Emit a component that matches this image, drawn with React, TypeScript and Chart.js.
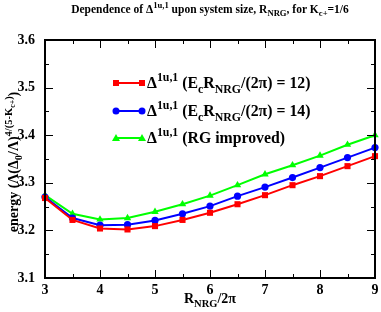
import React, { useEffect, useRef } from 'react';
import { Chart, registerables } from 'chart.js';
Chart.register(...registerables);

const FONT = '"Liberation Serif", "Times New Roman", serif';

const xValues = [3, 3.5, 4, 4.5, 5, 5.5, 6, 6.5, 7, 7.5, 8, 8.5, 9];
const ec12 = [3.268, 3.222, 3.204, 3.202, 3.209, 3.222, 3.237, 3.255, 3.274, 3.295, 3.314, 3.335, 3.356];
const ec14 = [3.270, 3.226, 3.211, 3.212, 3.221, 3.235, 3.251, 3.272, 3.291, 3.311, 3.332, 3.353, 3.374];
const rgImproved = [3.274, 3.235, 3.223, 3.226, 3.239, 3.255, 3.273, 3.295, 3.318, 3.337, 3.357, 3.380, 3.400];

const xTicks = [3, 4, 5, 6, 7, 8, 9];
const yTicks = [3.1, 3.2, 3.3, 3.4, 3.5, 3.6];

type Seg = { t: string; k?: 'sup' | 'sub' | 'supsub' };
const KIND: Record<string, { s: number; dy: number }> = {
  n: { s: 1, dy: 0 },
  sup: { s: 0.75, dy: -0.45 },
  sub: { s: 0.75, dy: 0.3 },
  supsub: { s: 0.56, dy: -0.22 },
};

const titleSegs: Seg[] = [
  { t: 'Dependence of \u0394' }, { t: '1u,1', k: 'sup' }, { t: ' upon system size, R' },
  { t: 'NRG', k: 'sub' }, { t: ', for K' }, { t: 'c+', k: 'sub' }, { t: '=1/6' },
];
const yLabelSegs: Seg[] = [
  { t: 'energy (\u039b(\u0394' }, { t: '0', k: 'sub' }, { t: '/\u039b)' },
  { t: '4/(5-K', k: 'sup' }, { t: 'c+', k: 'supsub' }, { t: ')', k: 'sup' }, { t: ')' },
];
const xLabelSegs: Seg[] = [{ t: 'R' }, { t: 'NRG', k: 'sub' }, { t: '/2\u03c0' }];
const legendItems: { segs: Seg[]; color: string; style: string }[] = [
  { segs: [{ t: '\u0394' }, { t: '1u,1', k: 'sup' }, { t: ' (E' }, { t: 'c', k: 'sub' }, { t: 'R' }, { t: 'NRG', k: 'sub' }, { t: '/(2\u03c0) = 12)' }], color: '#ff0000', style: 'rect' },
  { segs: [{ t: '\u0394' }, { t: '1u,1', k: 'sup' }, { t: ' (E' }, { t: 'c', k: 'sub' }, { t: 'R' }, { t: 'NRG', k: 'sub' }, { t: '/(2\u03c0) = 14)' }], color: '#0000ff', style: 'circle' },
  { segs: [{ t: '\u0394' }, { t: '1u,1', k: 'sup' }, { t: ' (RG improved)' }], color: '#00ff00', style: 'triangle' },
];

function drawRich(ctx: CanvasRenderingContext2D, segs: Seg[], x: number, y: number, size: number, align: 'left' | 'center') {
  ctx.save();
  ctx.textBaseline = 'alphabetic';
  ctx.textAlign = 'left';
  ctx.fillStyle = '#000';
  const widths = segs.map((sg) => {
    const k = KIND[sg.k || 'n'];
    ctx.font = `bold ${size * k.s}px ${FONT}`;
    return ctx.measureText(sg.t).width;
  });
  const total = widths.reduce((a, b) => a + b, 0);
  let cx = align === 'center' ? x - total / 2 : x;
  segs.forEach((sg, i) => {
    const k = KIND[sg.k || 'n'];
    ctx.font = `bold ${size * k.s}px ${FONT}`;
    ctx.fillText(sg.t, cx, y + k.dy * size);
    cx += widths[i];
  });
  ctx.restore();
}

function drawMarker(ctx: CanvasRenderingContext2D, style: string, x: number, y: number, color: string) {
  ctx.save();
  ctx.fillStyle = color;
  ctx.beginPath();
  if (style === 'rect') {
    ctx.rect(x - 3, y - 3, 6, 6);
  } else if (style === 'circle') {
    ctx.arc(x, y, 3.5, 0, Math.PI * 2);
  } else {
    ctx.moveTo(x, y - 4);
    ctx.lineTo(x + 4, y + 3);
    ctx.lineTo(x - 4, y + 3);
    ctx.closePath();
  }
  ctx.fill();
  ctx.restore();
}

const decorPlugin = {
  id: 'decor',
  afterDraw(chart: any) {
    const ctx: CanvasRenderingContext2D = chart.ctx;
    const { left, right, top, bottom } = chart.chartArea;
    const xs = chart.scales.x;
    const ys = chart.scales.y;
    ctx.save();
    ctx.strokeStyle = '#000';
    ctx.lineWidth = 1;
    for (let v = 3; v <= 9.001; v += 0.5) {
      const px = Math.round(xs.getPixelForValue(v)) + 0.5;
      const major = Math.abs(v - Math.round(v)) < 1e-6;
      const len = major ? 8 : 4;
      ctx.beginPath();
      ctx.moveTo(px, bottom); ctx.lineTo(px, bottom - len);
      ctx.moveTo(px, top); ctx.lineTo(px, top + len);
      ctx.stroke();
    }
    for (let i = 0; i <= 10; i++) {
      const v = 3.1 + i * 0.05;
      const py = Math.round(ys.getPixelForValue(v)) + 0.5;
      const len = i % 2 === 0 ? 8 : 4;
      ctx.beginPath();
      ctx.moveTo(left, py); ctx.lineTo(left + len, py);
      ctx.moveTo(right, py); ctx.lineTo(right - len, py);
      ctx.stroke();
    }
    ctx.lineWidth = 2;
    ctx.strokeRect(left, top, right - left, bottom - top);
    ctx.restore();

    drawRich(ctx, titleSegs, 210, 13, 11.5, 'center');
    drawRich(ctx, xLabelSegs, (left + right) / 2, 303, 14, 'center');
    ctx.save();
    ctx.translate(18, 162);
    ctx.rotate(-Math.PI / 2);
    drawRich(ctx, yLabelSegs, 0, 0, 14, 'center');
    ctx.restore();
    const rows = [83, 111, 138];
    legendItems.forEach((it, i) => {
      const y = rows[i];
      ctx.save();
      ctx.strokeStyle = it.color;
      ctx.lineWidth = 2;
      ctx.beginPath();
      ctx.moveTo(115, y); ctx.lineTo(143, y);
      ctx.stroke();
      ctx.restore();
      drawMarker(ctx, it.style, 116, y, it.color);
      drawMarker(ctx, it.style, 142, y, it.color);
      drawRich(ctx, it.segs, 147, y + 5, 15.8, 'left');
    });
  },
};

export default function App() {
  const ref = useRef<HTMLCanvasElement>(null);
  useEffect(() => {
    if (!ref.current) return;
    const mk = (label: string, data: number[], color: string, style: string, r: number) => ({
      label,
      data: xValues.map((x, i) => ({ x, y: data[i] })),
      borderColor: color,
      backgroundColor: color,
      borderWidth: 2,
      pointStyle: style,
      pointRadius: r,
      pointBorderWidth: 0,
      pointBackgroundColor: color,
      clip: false as any,
      tension: 0,
    });
    const chart = new Chart(ref.current, {
      type: 'line',
      data: {
        datasets: [
          mk('ec12', ec12, '#ff0000', 'rect', 4.3),
          mk('ec14', ec14, '#0000ff', 'circle', 3.6),
          mk('rg', rgImproved, '#00ff00', 'triangle', 4.3),
        ],
      },
      options: {
        responsive: false,
        animation: false,
        layout: { padding: { left: 0, top: 40, right: 6, bottom: 0 } },
        plugins: { legend: { display: false }, title: { display: false }, tooltip: { enabled: false } },
        scales: {
          x: {
            type: 'linear', min: 3, max: 9,
            grid: { display: false }, border: { display: false },
            afterBuildTicks: (s: any) => { s.ticks = xTicks.map((v) => ({ value: v })); },
            ticks: { color: '#000', padding: -4, font: { family: FONT, size: 14, weight: 'bold' }, maxRotation: 0, callback: (v: any) => String(v) },
            afterFit: (s: any) => { s.height = 34; },
          },
          y: {
            type: 'linear', min: 3.1, max: 3.6,
            grid: { display: false }, border: { display: false },
            afterBuildTicks: (s: any) => { s.ticks = yTicks.map((v) => ({ value: v })); },
            ticks: { color: '#000', padding: 2, font: { family: FONT, size: 14, weight: 'bold' }, callback: (v: any) => Number(v).toFixed(1) },
            afterFit: (s: any) => { s.width = 45; },
          },
        },
      },
      plugins: [decorPlugin],
    });
    return () => chart.destroy();
  }, []);
  return (
    <div style={{ position: 'fixed', left: 0, top: 0, width: 381, height: 312, background: '#fff' }}>
      <canvas ref={ref} width={381} height={312} style={{ width: 381, height: 312 }} />
    </div>
  );
}
